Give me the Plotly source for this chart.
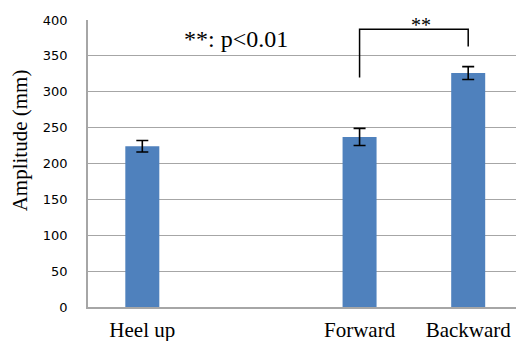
import plotly.graph_objects as go

categories = ["Heel up", "", "Forward", "Backward"]
x_pos = [0, 1, 2, 3]
amplitude = [224, None, 237, 326]
error = [8, None, 12, 9]
y_ticks = [0, 50, 100, 150, 200, 250, 300, 350, 400]

# significance bracket between Forward and Backward
bracket_left_x, bracket_right_x = 2, 3
bracket_top = 387
bracket_left_bottom = 320
bracket_right_bottom = 363

fig = go.Figure()
fig.add_trace(go.Bar(
    x=[x for x, v in zip(x_pos, amplitude) if v is not None],
    y=[v for v in amplitude if v is not None],
    width=0.313,
    marker=dict(color="#4F81BD", line=dict(width=0)),
    error_y=dict(type="data", array=[e for e in error if e is not None],
                 color="black", thickness=1.6, width=6, visible=True),
    hoverinfo="skip",
))

# bracket
fig.add_trace(go.Scatter(
    x=[bracket_left_x, bracket_left_x, bracket_right_x, bracket_right_x],
    y=[bracket_left_bottom, bracket_top, bracket_top, bracket_right_bottom],
    mode="lines", line=dict(color="black", width=1.5), hoverinfo="skip",
))

fig.add_annotation(x=(bracket_left_x + bracket_right_x) / 2 + 0.065, y=bracket_top,
                   text="**", showarrow=False, yanchor="bottom", yshift=-9,
                   font=dict(family="Liberation Serif", size=20, color="black"))
fig.add_annotation(x=0.865, y=373, text="**: p<0.01", showarrow=False,
                   xanchor="center", yanchor="middle",
                   font=dict(family="Liberation Serif", size=24, color="black"))
fig.add_annotation(xref="paper", yref="paper", x=-0.158, y=0.582,
                   text="Amplitude (mm)", textangle=-90, showarrow=False,
                   xanchor="center", yanchor="middle",
                   font=dict(family="Liberation Serif", size=21, color="black"))

fig.update_layout(
    width=516, height=341,
    margin=dict(l=88, r=0, t=20, b=34),
    plot_bgcolor="white", paper_bgcolor="white",
    showlegend=False,
    xaxis=dict(
        range=[-0.5, 3.44], tickvals=x_pos, ticktext=categories, automargin=False,
        showgrid=False, zeroline=False, showline=True, linecolor="#A6A6A6", linewidth=1.5,
        ticks="", tickfont=dict(family="Liberation Serif", size=21, color="black"),
        ticklabelstandoff=3,
    ),
    yaxis=dict(
        range=[0, 400], tickvals=y_ticks, automargin=False,
        showgrid=True, gridcolor="#A6A6A6", gridwidth=1.3,
        zeroline=False, showline=True, linecolor="#A6A6A6", linewidth=1.5,
        ticks="", tickfont=dict(family="DejaVu Sans", size=13, color="black"),
        ticklabelstandoff=16,
    ),
)

fig.write_html("out.html", config={"displayModeBar": False},
               post_script="document.body.style.margin='0';document.body.style.overflow='hidden';")
